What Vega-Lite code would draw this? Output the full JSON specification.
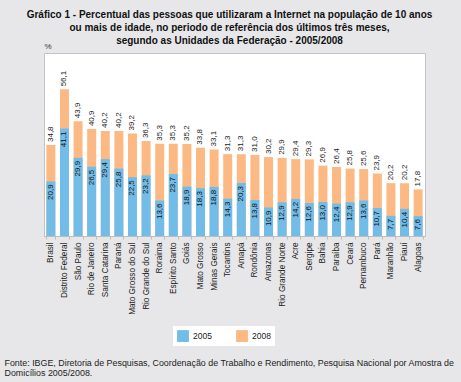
{
  "$schema": "https://vega.github.io/schema/vega-lite/v6.json",
  "width": 381,
  "height": 183,
  "autosize": {"type": "none"},
  "padding": {"left": 44, "top": 53, "right": 36, "bottom": 146},
  "background": "#e7e7e9",
  "config": {
    "locale": {"number": {"decimal": ",", "thousands": ".", "grouping": [3], "currency": ["R$", ""]}},
    "font": "Liberation Sans",
    "view": {"fill": "white", "stroke": "#c4c4c4", "strokeWidth": 1}
  },
  "title": {
    "text": ["Gráfico 1 - Percentual das pessoas que utilizaram a Internet na população de 10 anos", "ou mais de idade, no periodo de referência dos últimos três meses,", "segundo as Unidades da Federação - 2005/2008"],
    "fontSize": 10,
    "fontWeight": "bold",
    "color": "#111",
    "lineHeight": 13,
    "anchor": "middle",
    "offset": 8,
    "dx": -5,
    "dy": 12
  },
  "data": {
    "values": [
      {"uf": "Brasil", "ano": "2008", "valor": 34.8},
      {"uf": "Distrito Federal", "ano": "2008", "valor": 56.1},
      {"uf": "São Paulo", "ano": "2008", "valor": 43.9},
      {"uf": "Rio de Janeiro", "ano": "2008", "valor": 40.9},
      {"uf": "Santa Catarina", "ano": "2008", "valor": 40.2},
      {"uf": "Paraná", "ano": "2008", "valor": 40.2},
      {"uf": "Mato Grosso do Sul", "ano": "2008", "valor": 39.2},
      {"uf": "Rio Grande do Sul", "ano": "2008", "valor": 36.3},
      {"uf": "Roraima", "ano": "2008", "valor": 35.3},
      {"uf": "Espírito Santo", "ano": "2008", "valor": 35.3},
      {"uf": "Goiás", "ano": "2008", "valor": 35.2},
      {"uf": "Mato Grosso", "ano": "2008", "valor": 33.8},
      {"uf": "Minas Gerais", "ano": "2008", "valor": 33.1},
      {"uf": "Tocantins", "ano": "2008", "valor": 31.3},
      {"uf": "Amapá", "ano": "2008", "valor": 31.3},
      {"uf": "Rondônia", "ano": "2008", "valor": 31.0},
      {"uf": "Amazonas", "ano": "2008", "valor": 30.2},
      {"uf": "Rio Grande Norte", "ano": "2008", "valor": 29.9},
      {"uf": "Acre", "ano": "2008", "valor": 29.4},
      {"uf": "Sergipe", "ano": "2008", "valor": 29.3},
      {"uf": "Bahia", "ano": "2008", "valor": 26.9},
      {"uf": "Paraíba", "ano": "2008", "valor": 26.4},
      {"uf": "Ceará", "ano": "2008", "valor": 25.8},
      {"uf": "Pernambuco", "ano": "2008", "valor": 25.6},
      {"uf": "Pará", "ano": "2008", "valor": 23.9},
      {"uf": "Maranhão", "ano": "2008", "valor": 20.2},
      {"uf": "Piauí", "ano": "2008", "valor": 20.2},
      {"uf": "Alagoas", "ano": "2008", "valor": 17.8},
      {"uf": "Brasil", "ano": "2005", "valor": 20.9},
      {"uf": "Distrito Federal", "ano": "2005", "valor": 41.1},
      {"uf": "São Paulo", "ano": "2005", "valor": 29.9},
      {"uf": "Rio de Janeiro", "ano": "2005", "valor": 26.5},
      {"uf": "Santa Catarina", "ano": "2005", "valor": 29.4},
      {"uf": "Paraná", "ano": "2005", "valor": 25.8},
      {"uf": "Mato Grosso do Sul", "ano": "2005", "valor": 22.5},
      {"uf": "Rio Grande do Sul", "ano": "2005", "valor": 23.2},
      {"uf": "Roraima", "ano": "2005", "valor": 13.6},
      {"uf": "Espírito Santo", "ano": "2005", "valor": 23.7},
      {"uf": "Goiás", "ano": "2005", "valor": 18.9},
      {"uf": "Mato Grosso", "ano": "2005", "valor": 18.3},
      {"uf": "Minas Gerais", "ano": "2005", "valor": 18.8},
      {"uf": "Tocantins", "ano": "2005", "valor": 14.3},
      {"uf": "Amapá", "ano": "2005", "valor": 20.3},
      {"uf": "Rondônia", "ano": "2005", "valor": 13.8},
      {"uf": "Amazonas", "ano": "2005", "valor": 10.9},
      {"uf": "Rio Grande Norte", "ano": "2005", "valor": 12.9},
      {"uf": "Acre", "ano": "2005", "valor": 14.2},
      {"uf": "Sergipe", "ano": "2005", "valor": 12.6},
      {"uf": "Bahia", "ano": "2005", "valor": 13.0},
      {"uf": "Paraíba", "ano": "2005", "valor": 12.4},
      {"uf": "Ceará", "ano": "2005", "valor": 12.9},
      {"uf": "Pernambuco", "ano": "2005", "valor": 13.6},
      {"uf": "Pará", "ano": "2005", "valor": 10.7},
      {"uf": "Maranhão", "ano": "2005", "valor": 7.7},
      {"uf": "Piauí", "ano": "2005", "valor": 10.4},
      {"uf": "Alagoas", "ano": "2005", "valor": 7.6}
    ]
  },
  "encoding": {
    "x": {
      "field": "uf",
      "type": "nominal",
      "sort": null,
      "scale": {"paddingInner": 0.34, "paddingOuter": 0.175},
      "axis": {
        "labelAngle": 270,
        "labelAlign": "right",
        "labelBaseline": "middle",
        "labelFontSize": 8.2,
        "labelColor": "#222",
        "labelPadding": 3,
        "tickSize": 3,
        "tickBand": "extent",
        "tickColor": "#bdbdbd",
        "domainColor": "#bdbdbd",
        "title": ["Fonte: IBGE, Diretoria de Pesquisas, Coordenação de Trabalho e Rendimento, Pesquisa Nacional por Amostra de", "Domicílios 2005/2008."],
        "titleFontSize": 8.9,
        "titleFontWeight": "normal",
        "titleColor": "#222",
        "titleAlign": "left",
        "titleBaseline": "top",
        "titleLineHeight": 10,
        "titleX": -40,
        "titleY": 122
      }
    },
    "y": {
      "field": "valor",
      "type": "quantitative",
      "scale": {"domain": [0, 70]},
      "axis": {
        "domain": false,
        "ticks": false,
        "labels": false,
        "grid": false,
        "title": "%",
        "titleAngle": 0,
        "titleAlign": "left",
        "titleBaseline": "bottom",
        "titleFontSize": 8,
        "titleFontWeight": "normal",
        "titleColor": "#333",
        "titleX": 0,
        "titleY": -3
      }
    }
  },
  "layer": [
    {
      "mark": {"type": "bar"},
      "encoding": {
        "y": {"field": "valor", "type": "quantitative", "stack": null},
        "color": {
          "field": "ano",
          "type": "nominal",
          "scale": {"domain": ["2005", "2008"], "range": ["#72bce8", "#fcb984"]},
          "legend": {
            "orient": "none",
            "legendX": 129,
            "legendY": 273,
            "direction": "horizontal",
            "title": null,
            "fillColor": "white",
            "padding": 4,
            "symbolType": "square",
            "symbolSize": 140,
            "symbolStrokeWidth": 0,
            "labelFontSize": 8.5,
            "labelColor": "#222",
            "labelOffset": 4,
            "columnPadding": 24
          }
        }
      }
    },
    {
      "transform": [{"filter": "datum.ano == '2008'"}],
      "mark": {"type": "text", "angle": 270, "align": "left", "baseline": "middle", "dx": 3, "fontSize": 8, "color": "#222"},
      "encoding": {"text": {"field": "valor", "type": "quantitative", "format": ".1f"}}
    },
    {
      "transform": [{"filter": "datum.ano == '2005'"}],
      "mark": {"type": "text", "angle": 270, "align": "right", "baseline": "middle", "dx": -3, "fontSize": 8, "color": "#111"},
      "encoding": {"text": {"field": "valor", "type": "quantitative", "format": ".1f"}}
    }
  ]
}
